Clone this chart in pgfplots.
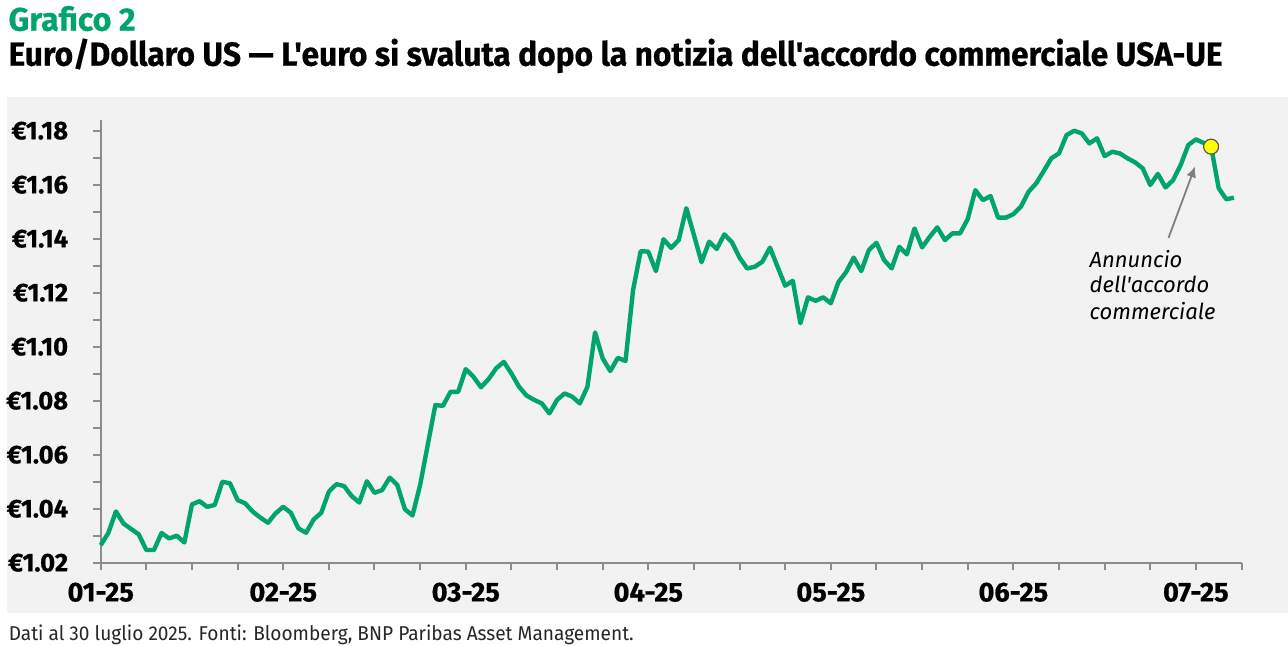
\documentclass[border=0pt]{standalone}
\usepackage{pgfplots}
\pgfplotsset{compat=1.18}
\usepackage{fontspec}
\setmainfont{Fira Sans}[Ligatures=TeXOff, BoldFeatures={FakeBold=0.6}]
\usetikzlibrary{arrows.meta}
\definecolor{bnpgreen}{HTML}{00A46C}
\definecolor{panelgray}{HTML}{F2F2F2}
\definecolor{axisgray}{HTML}{8C8C8C}
\definecolor{arrowgray}{HTML}{7F7F7F}
\definecolor{circgray}{HTML}{555555}
\definecolor{mkyellow}{HTML}{FFFF00}
\begin{document}
\begin{tikzpicture}[x=1pt,y=1pt]
\useasboundingbox (0pt,0pt) rectangle (644pt,-322.5pt);
\fill[panelgray] (3.35pt,-48.5pt) rectangle (644pt,-306.5pt);
\node[anchor=base west, inner sep=0, text=bnpgreen, font=\bfseries\fontsize{16.3}{19}\selectfont] at (4.1pt,-15.35pt) {\resizebox{63.5pt}{\height}{Grafico 2}};
\node[anchor=base west, inner sep=0, font=\bfseries\fontsize{16.7}{20}\selectfont] at (4.1pt,-32.85pt) {\resizebox{607pt}{\height}{Euro/Dollaro US — L'euro si svaluta dopo la notizia dell'accordo commerciale USA-UE}};
\begin{axis}[
  at={(50.35pt,-281.35pt)}, anchor=south west,
  scale only axis, width=570.4pt, height=221.45pt,
  xmin=0, xmax=150, ymin=1.02, ymax=1.18404,
  axis lines=left, axis line style={-, draw=axisgray, line width=1pt},
  xtick={0,24,48,72,96,120,144},
  xticklabels={01-25,02-25,03-25,04-25,05-25,06-25,07-25},
  minor xtick={6,12,18,30,36,42,54,60,66,78,84,90,102,108,114,126,132,138,150},
  ytick={1.02,1.04,1.06,1.08,1.10,1.12,1.14,1.16,1.18},
  yticklabels={€1.02,€1.04,€1.06,€1.08,€1.10,€1.12,€1.14,€1.16,€1.18},
  minor ytick={1.03,1.05,1.07,1.09,1.11,1.13,1.15,1.17},
  tick align=outside, major tick length=3.75pt, minor tick length=3.75pt,
  every tick/.style={draw=axisgray, line width=1pt},
  tick label style={inner sep=0pt},
  xticklabel style={anchor=north, yshift=-6pt, font=\bfseries\fontsize{13.6}{16}\selectfont},
  yticklabel style={anchor=east, xshift=-12.35pt, font=\bfseries\fontsize{12.8}{15}\selectfont},
  clip=false,
]
\addplot[draw=bnpgreen, line width=2.2pt, line join=round, mark=none] coordinates {
(0,1.0265) (1,1.0310) (2,1.0390) (3,1.0345) (4,1.0325) (5,1.0305) (6,1.0247) (7,1.0247) (8,1.0310) (9,1.0290)
(10,1.0300) (11,1.0275) (12,1.0416) (13,1.0428) (14,1.0407) (15,1.0414) (16,1.0500) (17,1.0494) (18,1.0432) (19,1.0420)
(20,1.0389) (21,1.0367) (22,1.0348) (23,1.0383) (24,1.0407) (25,1.0385) (26,1.0327) (27,1.0311) (28,1.0360) (29,1.0385)
(30,1.0463) (31,1.0491) (32,1.0484) (33,1.0447) (34,1.0423) (35,1.0502) (36,1.0459) (37,1.0469) (38,1.0515) (39,1.0488)
(40,1.0398) (41,1.0375) (42,1.0488) (43,1.0636) (44,1.0784) (45,1.0781) (46,1.0833) (47,1.0833) (48,1.0917) (49,1.0889)
(50,1.0850) (51,1.0880) (52,1.0920) (53,1.0944) (54,1.0901) (55,1.0852) (56,1.0819) (57,1.0803) (58,1.0790) (59,1.0753)
(60,1.0803) (61,1.0827) (62,1.0815) (63,1.0790) (64,1.0852) (65,1.1053) (66,1.0957) (67,1.0910) (68,1.0959) (69,1.0947)
(70,1.1210) (71,1.1354) (72,1.1352) (73,1.1280) (74,1.1398) (75,1.1366) (76,1.1395) (77,1.1513) (78,1.1414) (79,1.1313)
(80,1.1389) (81,1.1362) (82,1.1416) (83,1.1387) (84,1.1330) (85,1.1290) (86,1.1296) (87,1.1315) (88,1.1367) (89,1.1296)
(90,1.1226) (91,1.1244) (92,1.1087) (93,1.1183) (94,1.1170) (95,1.1183) (96,1.1161) (97,1.1239) (98,1.1276) (99,1.1330)
(100,1.1280) (101,1.1358) (102,1.1385) (103,1.1321) (104,1.1290) (105,1.1370) (106,1.1342) (107,1.1438) (108,1.1368) (109,1.1407)
(110,1.1442) (111,1.1395) (112,1.1420) (113,1.1420) (114,1.1473) (115,1.1580) (116,1.1543) (117,1.1558) (118,1.1478) (119,1.1478)
(120,1.1491) (121,1.1519) (122,1.1574) (123,1.1605) (124,1.1651) (125,1.1698) (126,1.1716) (127,1.1784) (128,1.1800) (129,1.1790)
(130,1.1753) (131,1.1772) (132,1.1706) (133,1.1722) (134,1.1716) (135,1.1698) (136,1.1683) (137,1.1661) (138,1.1599) (139,1.1640)
(140,1.1590) (141,1.1617) (142,1.1673) (143,1.1747) (144,1.1768) (145,1.1755) (146,1.1741) (147,1.1587) (148,1.1546) (149,1.1552)
};
\addplot[only marks, mark=*, mark size=3.75pt, mark options={fill=mkyellow, draw=circgray, line width=0.6pt}] coordinates {(146,1.1741)};
\draw[arrowgray, line width=0.9pt, -{Latex[length=5.5pt,width=5pt]}] (axis cs:140.4,1.1403) -- (axis cs:143.9,1.1668);
\end{axis}
\node[anchor=base west, inner sep=0, font=\itshape\fontsize{11}{13}\selectfont] at (544.65pt,-133.5pt) {Annuncio};
\node[anchor=base west, inner sep=0, font=\itshape\fontsize{11}{13}\selectfont] at (544.65pt,-146.35pt) {dell'accordo};
\node[anchor=base west, inner sep=0, font=\itshape\fontsize{11}{13}\selectfont] at (544.65pt,-159.85pt) {commerciale};
\node[anchor=base west, inner sep=0, text=black!85, font=\fontsize{10}{12}\selectfont] at (4.2pt,-320.3pt) {\resizebox{312.5pt}{\height}{Dati al 30 luglio 2025. Fonti: Bloomberg, BNP Paribas Asset Management.}};
\end{tikzpicture}
\end{document}
